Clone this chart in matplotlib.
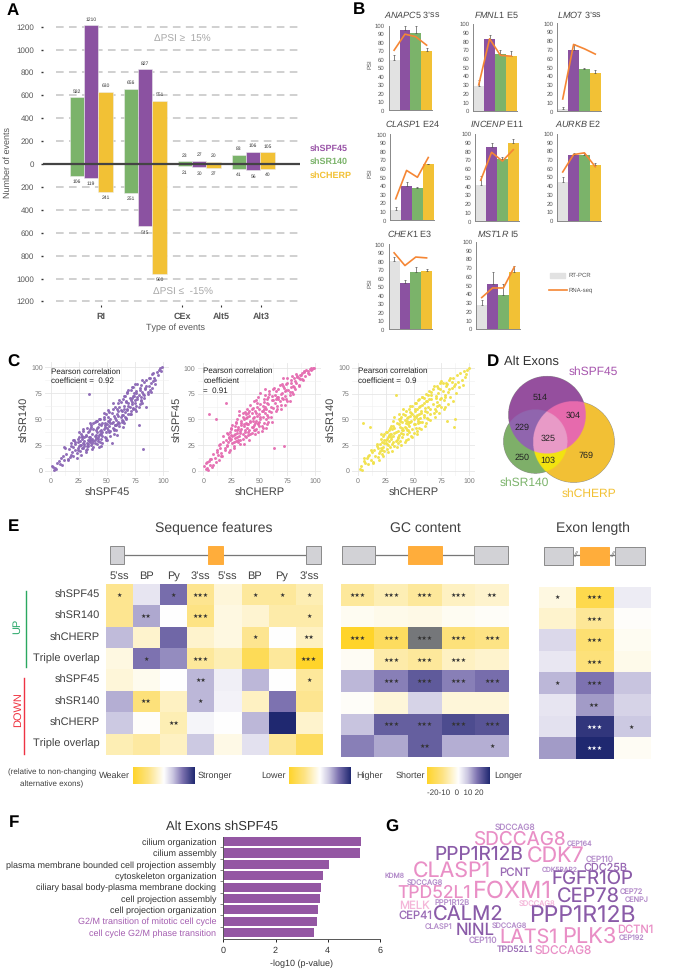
import numpy as np
import matplotlib
matplotlib.use('Agg')
from matplotlib import pyplot as plt
from matplotlib.colors import LinearSegmentedColormap, to_rgba
from matplotlib.patches import Rectangle

plt.rcParams['font.family'] = ['Liberation Sans', 'DejaVu Sans']
plt.rcParams['mathtext.fontset'] = 'custom'
plt.rcParams['mathtext.it'] = 'Liberation Sans:italic'
plt.rcParams['mathtext.rm'] = 'Liberation Sans'
plt.rcParams['text.hinting'] = 'no_hinting'
plt.rcParams['text.hinting_factor'] = 1

W, H = 679, 972
GREEN, PURPLE, YELLOW = '#7BB36A', '#8B52A1', '#F2C135'
GREY_BAR, ORANGE = '#E2E2E2', '#F58634'
TXT = '#404040'

# ------------------ panel A ------------------ #
event_types = ['RI', 'CEx', 'Alt5', 'Alt3']
up_sr140 = [582, 656, 23, 83]
up_spf45 = [1210, 827, 27, 106]
up_cherp = [630, 551, 20, 105]
down_sr140 = [106, 251, 21, 41]
down_spf45 = [119, 545, 30, 56]
down_cherp = [241, 960, 37, 40]

# ------------------ panel B ------------------ #
conditions = ['RT-PCR', 'shSPF45', 'shSR140', 'shCHERP']
gene_titles = [r"$\mathit{ANAPC5}$ 3’ss", r"$\mathit{FMNL1}$ E5", r"$\mathit{LMO7}$ 3’ss",
               r"$\mathit{CLASP1}$ E24", r"$\mathit{INCENP}$ E11", r"$\mathit{AURKB}$ E2",
               r"$\mathit{CHEK1}$ E3", r"$\mathit{MST1R}$ I5"]
pcr_psi = [[60, 95, 91, 70], [29, 83, 65, 63.5], [3, 70, 48, 44],
           [12, 40, 37, 65], [42, 85, 71, 90], [45, 75, 75, 64],
           [80, 54, 67, 68], [27, 51, 39, 65]]
pcr_err = [[5, 5, 9, 4], [7, 4, 5, 5], [2, 6, 1, 3],
           [3, 5, 2, 1], [10, 5, 3, 4], [5, 3, 3, 2],
           [5, 4, 6, 3], [6, 14, 13, 7]]
seq_psi = [[71, 90, 87, 77], [30, 83, 64, 63], [14, 76, 71, 65],
           [25, 58, 50, 73], [47, 79, 69, 82], [56, 76, 78, 62],
           [90, 75, 85, 84], [36, 47, 47, 71]]

# ------------------ panel C ------------------ #
spf45_a = [1,2,3,4,5,6,7,8,9,10,11,12,13,14,15,16,17,18,18,19,
           20,20,21,22,22,23,24,24,25,25,26,26,27,27,28,28,29,29,30,30,
           31,31,32,32,33,33,34,34,35,35,35,36,36,37,37,38,38,39,39,40,
           40,41,41,42,42,43,43,44,44,45,45,45,46,46,47,47,48,48,49,49,
           50,50,51,51,52,52,53,53,54,54,55,55,56,56,57,57,58,58,59,59,
           60,60,61,61,62,62,63,63,64,64,65,65,66,66,67,67,68,68,69,69,
           70,70,71,71,72,72,73,73,74,75,75,76,76,77,78,78,79,80,80,81,
           82,83,83,84,85,85,86,87,88,88,89,90,90,91,92,93,94,95,96,97,98,99,
           22,24,26,28,29,30,31,32,33,34,35,36,37,38,39,40,41,42,43,44,
           45,46,47,48,49,50,51,52,53,54,55,56,57,58,59,60,61,62,63,64,
           65,66,67,68,69,70,71,72,73,74,75,76,77,78,79,80,81,82,84,86,
           12,15,18,20,23,25,27,29,31,33,35,37,39,41,43,45,47,49,51,53,
           55,57,59,61,63,65,67,69,71,73,75,77,79,81,83,85,87,89,91,93,
           24,28,32,36,40,44,48,52,56,60,64,68,72,76,80,30,34,38,42,46]
sr140_a = [5,4,1,3,2,8,9,7,12,6,14,10,22,16,11,21,13,24,15,18,
           23,14,30,20,26,17,28,22,24,33,19,29,25,36,22,31,27,38,24,33,
           20,35,27,41,30,24,38,74,28,33,40,25,44,31,36,23,46,34,27,39,
           32,48,37,29,42,35,23,50,38,31,44,36,27,46,40,52,33,42,37,55,
           45,30,48,39,57,43,34,50,46,27,60,41,53,36,44,62,49,39,55,45,
           58,47,62,43,52,66,49,58,69,54,46,63,57,72,51,67,60,76,55,65,
           70,62,78,58,66,81,72,61,75,68,84,63,77,71,44,73,80,83,68,76,
           21,86,70,79,62,88,74,82,78,90,85,80,93,87,90,84,95,92,97,99,96,100,
           28,20,25,33,22,29,34,24,37,29,31,42,27,40,30,35,41,33,45,36,
           39,34,50,44,32,41,52,37,46,56,47,39,51,44,60,53,46,59,54,48,
           60,52,66,59,63,55,68,64,60,72,65,75,69,62,78,71,65,74,80,76,
           23,10,27,30,12,37,15,40,18,26,46,21,47,26,50,24,56,30,59,38,
           65,44,35,68,47,72,50,78,55,81,60,84,64,88,73,82,90,76,94,88,
           31,34,21,30,48,28,46,48,40,65,42,75,70,58,67,26,33,29,31,37]
cherp_b = [1,2,2,3,4,5,5,6,7,8,9,10,11,11,12,13,14,15,16,17,
           18,19,20,20,21,22,22,23,24,24,25,25,26,26,27,27,28,28,29,29,
           30,30,31,31,32,32,33,33,34,34,35,35,36,36,37,37,38,38,39,39,
           40,40,41,41,42,42,43,43,44,44,45,45,46,46,47,47,48,48,49,49,
           50,50,51,51,52,52,53,53,54,54,55,55,56,56,57,57,58,58,59,59,
           60,60,61,62,63,64,65,66,67,68,69,70,71,72,72,73,74,75,76,77,
           78,79,80,81,82,83,84,85,86,87,88,89,90,91,92,93,94,95,96,97,98,99,
           15,18,21,23,25,27,28,30,31,33,34,35,36,37,38,39,40,41,42,43,
           44,45,46,47,48,49,50,51,52,53,54,55,56,57,58,60,61,62,64,65,
           66,67,68,69,70,71,73,74,75,77,78,80,82,84,85,86,88,90,93,96,
           3,6,9,12,14,16,19,21,23,25,27,29,31,33,35,37,39,41,43,45,
           47,49,51,53,55,57,59,61,63,65,67,69,71,73,75,77,79,81,83,85,
           26,30,34,38,42,46,50,54,58,62,66,70,74,78,24,28,32,36,40,44]
spf45_b = [5,2,8,3,1,55,10,6,12,4,16,13,50,9,20,15,11,26,17,14,
           34,22,66,30,25,36,28,33,20,38,42,31,27,45,35,24,40,32,29,47,
           37,50,28,43,34,54,39,30,49,41,36,52,44,26,57,38,47,33,42,60,
           46,35,53,40,64,48,37,56,43,51,45,68,36,58,49,41,62,53,46,72,
           55,44,50,76,58,39,63,52,47,67,56,80,60,42,54,70,48,65,58,75,
           62,52,73,69,22,66,78,60,72,84,64,76,70,24,81,73,85,68,79,74,
           88,77,83,90,80,86,92,84,89,93,95,88,96,92,98,97,94,99,100,99,100,100,
           22,28,24,32,35,28,44,33,41,37,47,31,50,40,55,46,38,58,49,43,
           61,52,40,56,66,47,60,52,44,58,70,62,50,66,72,57,69,61,74,70,
           63,80,68,75,71,83,78,70,86,77,82,75,87,91,83,93,89,97,95,98,
           9,12,6,18,25,14,20,37,18,41,22,48,30,26,56,34,52,30,60,40,
           69,38,65,42,74,46,78,48,81,58,70,60,90,64,90,68,92,82,94,90,
           34,40,45,51,36,47,48,60,52,80,72,85,79,86,30,36,58,46,56,49]
cherp_c = [2,3,4,5,6,7,8,9,10,11,12,13,14,15,16,17,18,19,20,20,
           21,21,22,22,23,23,24,24,25,25,26,26,27,27,28,28,29,29,30,30,
           31,31,32,32,33,33,34,35,35,36,36,37,37,38,38,39,39,40,40,41,
           41,42,42,43,43,44,44,45,45,46,46,47,47,48,48,49,49,50,50,51,
           51,52,52,53,53,54,54,55,55,56,56,57,58,58,59,59,60,60,61,
           62,62,63,64,65,66,67,68,69,70,71,72,73,74,75,76,77,78,79,80,81,
           82,83,84,85,86,87,88,89,90,91,92,93,94,95,96,97,98,100,
           18,22,24,26,28,30,32,33,34,36,37,38,40,41,42,43,44,45,46,47,
           48,49,50,51,52,53,54,55,56,57,58,59,60,61,63,64,65,66,68,70,
           71,72,74,75,76,78,80,82,84,86,
           6,9,12,14,17,19,21,23,25,27,29,31,33,35,37,39,41,43,45,47,
           49,51,53,55,57,59,61,63,65,67,69,71,73,75,77,79,81,83,85,87,
           26,30,34,38,42,46,50,54,58,62,66,70,74,78,24,28,32,36,40,44]
sr140_c = [2,5,1,46,10,8,12,7,15,43,11,18,9,20,14,24,13,17,26,19,
           31,22,16,28,34,23,19,36,27,30,21,38,25,33,40,29,23,36,44,31,
           26,41,34,48,24,37,74,30,46,39,27,50,35,43,29,52,37,33,47,55,
           40,28,49,42,58,36,51,31,45,60,38,53,47,34,56,41,63,50,37,58,
           45,66,52,39,60,48,69,55,42,63,51,58,47,72,54,66,44,61,75,57,
           68,62,78,55,70,65,82,60,73,67,76,64,79,71,85,69,74,82,48,77,
           88,72,80,90,43,84,76,93,86,81,95,88,83,97,91,94,98,100,
           22,20,30,26,35,33,28,42,38,32,45,48,42,36,54,46,40,52,44,57,
           48,55,45,60,42,54,50,62,47,56,64,52,58,68,50,70,60,74,56,71,
           63,80,70,62,78,72,84,79,86,82,
           12,14,20,8,26,11,36,14,38,18,42,19,52,23,55,25,60,30,40,63,
           33,66,36,70,41,71,46,74,49,79,52,82,56,87,60,85,65,90,68,50,
           31,36,29,50,43,47,53,46,72,51,77,58,85,62,27,34,44,33,40,48]

# ------------------ panel D ------------------ #
venn_spf45_only, venn_sr140_only, venn_cherp_only = 514, 250, 769
venn_spf45_sr140, venn_spf45_cherp, venn_sr140_cherp, venn_all = 229, 304, 103, 325

# ------------------ panel E ------------------ #
row_names = ['shSPF45', 'shSR140', 'shCHERP', 'Triple overlap'] * 2
seq_cols = ['5’ss', 'BP', 'Py', '3’ss', '5’ss', 'BP', 'Py', '3’ss']
seq_vals = [[-.45, .13, .62, -.45, -.15, -.4, -.4, -.3],
            [-.45, .4, 0, -.5, -.12, -.18, -.35, -.35],
            [.33, -.2, .65, -.2, -.12, -.45, 0, -.25],
            [-.12, .6, .5, -.4, -.3, -.75, -.4, -1],
            [-.15, -.07, 0, .35, .08, .35, 0, -.4],
            [.38, -.55, -.25, .35, .07, -.25, .6, -.45],
            [.28, -.02, -.3, .05, 0, .35, 1, -.2],
            [-.3, -.38, -.25, .28, -.1, .15, -.42, -.7]]
seq_stars = [['*', '', '*', '***', '', '*', '*', '*'],
             ['', '**', '', '***', '', '', '', '*'],
             ['', '', '', '', '', '*', '', '**'],
             ['', '*', '', '***', '', '', '', '***'],
             ['', '', '', '**', '', '', '', '*'],
             ['', '**', '', '*', '', '', '', ''],
             ['', '', '**', '', '', '', '', ''],
             ['', '', '', '', '', '', '', '']]
gc_vals = [[-.4, -.3, -.4, -.25, -.2],
           [-.05, -.08, -.1, -.05, -.03],
           [-1, -.7, np.nan, -.55, -.5],
           [-.04, -.35, -.4, -.25, -.2],
           [.35, .55, .72, .55, .62],
           [-.03, -.15, .22, -.15, -.15],
           [.3, .7, .7, .8, .75],
           [.55, .4, .7, .38, .38]]
gc_stars = [['***', '***', '***', '***', '**'],
            ['', '', '', '', ''],
            ['***', '***', '***', '***', '***'],
            ['', '***', '***', '***', ''],
            ['', '***', '***', '***', '***'],
            ['', '', '', '', ''],
            ['', '***', '***', '***', '***'],
            ['', '', '**', '', '*']]
len_vals = [[-.12, -.8, .1],
            [-.2, -.42, -.02],
            [.2, -.6, -.05],
            [.12, -.55, -.08],
            [.35, .6, .3],
            [.13, .45, .22],
            [.15, .92, .28],
            [.45, 1, -.04]]
len_stars = [['*', '***', ''],
             ['', '***', ''],
             ['', '***', ''],
             ['', '***', ''],
             ['*', '***', ''],
             ['', '**', ''],
             ['', '***', '*'],
             ['', '***', '']]

# ------------------ panel F ------------------ #
go_terms = ['cilium organization', 'cilium assembly',
            'plasma membrane bounded cell projection assembly',
            'cytoskeleton organization', 'ciliary basal body-plasma membrane docking',
            'cell projection assembly', 'cell projection organization',
            'G2/M transition of mitotic cell cycle', 'cell cycle G2/M phase transition']
go_pvals = [5.28, 5.23, 4.06, 3.8, 3.75, 3.72, 3.63, 3.58, 3.46]

# ------------------ panel G ------------------ #
cloud_words = ['SDCCAG8', 'SDCCAG8', 'CEP164', 'PPP1R12B', 'CDK7', 'CEP110', 'CLASP1', 'PCNT',
               'CDK5RAP2', 'CDC25B', 'KDM8', 'FGFR1OP', 'SDCCAG8', 'TPD52L1', 'FOXM1', 'CEP78',
               'CEP72', 'CENPJ', 'MELK', 'PPP1R12B', 'SDCCAG8', 'CEP41', 'CALM2', 'PPP1R12B',
               'CLASP1', 'SDCCAG8', 'NINL', 'DCTN1', 'LATS1', 'PLK3', 'CEP192', 'CEP110',
               'TPD52L1', 'SDCCAG8']


# ------------------ helpers ------------------ #
fig = plt.figure(figsize=(W / 100, H / 100), dpi=100)


def box(x0, y0, x1, y1):
    # axes from pixel box of the reference
    return fig.add_axes([x0 / W, 1 - y1 / H, (x1 - x0) / W, (y1 - y0) / H])


ov = fig.add_axes([0, 0, 1, 1], zorder=10)
ov.set_xlim(0, W)
ov.set_ylim(H, 0)
ov.axis('off')
ov.patch.set_alpha(0)


def label(x, y, s, size=6, color=TXT, ha='left', **kw):
    ov.text(x, y, s, fontsize=size, color=color, ha=ha, va='center', **kw)


for letter, lx, ly in [('A', 7, 11), ('B', 353, 10), ('C', 7, 362), ('D', 487, 362),
                       ('E', 8, 527), ('F', 9, 823), ('G', 385, 827)]:
    label(lx, ly, letter, size=12.5, color='black', fontweight='bold')

# ------------------ panel A ------------------ #
ax = box(43, 20, 300, 305)
ax.set_xlim(-0.894, 3.865)
ax.set_ylim(-1231, 1258)
grid_levels = [200, 400, 600, 800, 1000, 1200]
for lev in grid_levels:
    for sign in (1, -1):
        ax.plot([-0.66, 3.865], [sign * lev] * 2, color='#C4C4C4', lw=1.1, dashes=(5, 3.5), zorder=1)
group_x = np.arange(len(event_types))
bar_w = 0.267
series = [(-bar_w, up_sr140, down_sr140, GREEN),
          (0, up_spf45, down_spf45, PURPLE),
          (bar_w, up_cherp, down_cherp, YELLOW)]
for off, ups, downs, col in series:
    ax.bar(group_x + off, ups, bar_w, color=col, edgecolor='#EDEDED', lw=0.4, zorder=2)
    ax.bar(group_x + off, -np.array(downs), bar_w, color=col, edgecolor='#EDEDED', lw=0.4, zorder=2)
    for gx, u, d in zip(group_x, ups, downs):
        ax.annotate(str(u), (gx + off, u), xytext=(0, 2.5), textcoords='offset points',
                    ha='center', va='bottom', fontsize=3.6, color='#333333')
        ax.annotate(str(d), (gx + off, -d), xytext=(0, -2.5), textcoords='offset points',
                    ha='center', va='top', fontsize=3.6, color='#333333')
ax.axhline(0, color='#444444', lw=1.6, zorder=3)
ticks = [-1200, -1000, -800, -600, -400, -200, 0, 200, 400, 600, 800, 1000, 1200]
ax.set_yticks(ticks)
ax.set_yticklabels([str(abs(t)) for t in ticks], fontsize=5.7, color='#555555')
ax.tick_params(axis='y', length=1.5, width=1, color='#333333', pad=5)
ax.set_xticks([0.18, 1.68, 2.41, 3.15])
ax.set_xticklabels(event_types, fontsize=6.2, color='#555555', fontweight='bold')
ax.tick_params(axis='x', length=1.2, width=0.8, color='#333333', pad=4)
for s in ax.spines.values():
    s.set_visible(False)
ax.patch.set_alpha(0)
label(7.5, 163, 'Number of events', size=6.8, color='#555555', ha='center', rotation=90)
label(175.7, 328, 'Type of events', size=6.2, color='#555555', ha='center')
label(182.7, 39, 'ΔPSI ≥  15%', size=7.5, color='#A8A8A8', ha='center')
label(182.7, 292, 'ΔPSI ≤  -15%', size=7.5, color='#A8A8A8', ha='center')
label(309.7, 148.7, 'shSPF45', size=6.6, color='#9A55A8', fontweight='bold')
label(309.7, 162, 'shSR140', size=6.6, color=GREEN, fontweight='bold')
label(309.7, 175.7, 'shCHERP', size=6.6, color=YELLOW, fontweight='bold')

# ------------------ panel B ------------------ #
b_boxes = [(388.7, 25.7, 432, 110.3), (473.3, 24, 516.7, 111), (557.3, 23.3, 600.7, 111.3),
           (390.3, 134.3, 433.7, 220.3), (475.3, 134, 518.7, 221.3), (557.3, 133.7, 600.7, 220.7),
           (388.7, 244.3, 432, 329.3), (476.3, 241.7, 519.7, 329)]
b_title_pos = [(412, 15), (496, 15), (579, 15), (412, 124.3), (496.7, 124.3), (578, 124.3),
               (410, 234.3), (498, 234.3)]
bar_colors = [GREY_BAR, PURPLE, GREEN, YELLOW]
for i, bb in enumerate(b_boxes):
    ax = box(*bb)
    xs = np.arange(len(conditions))
    ax.bar(xs, pcr_psi[i], 1.0, color=bar_colors, zorder=2)
    ax.errorbar(xs, pcr_psi[i], yerr=[[0] * 4, pcr_err[i]], fmt='none', ecolor='#555555',
                elinewidth=0.5, capsize=0.8, capthick=0.5, zorder=3)
    ax.plot(xs, seq_psi[i], color=ORANGE, lw=1.2, zorder=4)
    ax.set_xlim(-0.5, 3.5)
    ax.set_ylim(0, 100)
    ax.set_xticks([])
    ax.set_yticks(range(0, 101, 10))
    ax.tick_params(axis='y', labelsize=4.2, length=0, pad=3, labelcolor='#555555')
    for side in ('top', 'right'):
        ax.spines[side].set_visible(False)
    for side in ('left', 'bottom'):
        ax.spines[side].set_color('#888888')
        ax.spines[side].set_linewidth(0.7)
    label(b_title_pos[i][0], b_title_pos[i][1], gene_titles[i], size=6.8, color='#444444', ha='center')
    if i % 3 == 0:
        label(370, (bb[1] + bb[3]) / 2 - 4, 'PSI', size=4.2, color='#555555', ha='center', rotation=90)
ov.add_patch(Rectangle((550, 273.3), 15.3, 4.7, color=GREY_BAR))
ov.plot([549, 566.7], [290, 290], color=ORANGE, lw=1.2)
label(568.3, 275.7, 'RT-PCR', size=4.6, color='#555555')
label(568.3, 290, 'RNA-seq', size=4.6, color='#555555')

# ------------------ panel C ------------------ #
c_boxes = [(45, 362, 169, 476), (197.7, 363, 321, 476), (352, 362.7, 475, 476)]
c_data = [(spf45_a, sr140_a, '#8B67B5', 'shSPF45', 'shSR140'),
          (cherp_b, spf45_b, '#E56DB1', 'shCHERP', 'shSPF45'),
          (cherp_c, sr140_c, '#F1E14A', 'shCHERP', 'shSR140')]
for bb, (xv, yv, col, xl, yl) in zip(c_boxes, c_data):
    ax = box(*bb)
    ax.set_xlim(-5, 105)
    ax.set_ylim(-5, 105)
    ax.set_xticks([0, 25, 50, 75, 100])
    ax.set_yticks([0, 25, 50, 75, 100])
    ax.set_xticks([12.5, 37.5, 62.5, 87.5], minor=True)
    ax.set_yticks([12.5, 37.5, 62.5, 87.5], minor=True)
    ax.grid(which='major', color='#E6E6E6', lw=0.6)
    ax.grid(which='minor', color='#F0F0F0', lw=0.4)
    ax.set_axisbelow(True)
    ax.tick_params(which='both', length=0)
    ax.tick_params(labelsize=5.2, labelcolor='#777777', pad=1.5)
    for s in ax.spines.values():
        s.set_visible(False)
    ax.scatter(xv, yv, s=4.5, color=col, linewidths=0, alpha=0.95, zorder=3)
    ax.set_xlabel(xl, fontsize=8.2, color='#444444', labelpad=2.5)
    ax.set_ylabel(yl, fontsize=8.2, color='#444444', labelpad=1)
label(50.7, 371.7, 'Pearson correlation', size=6.1, color='#222222')
label(50.7, 381.3, 'coefficient =  0.92', size=6.1, color='#222222')
label(203.3, 371.3, 'Pearson correlation', size=6.1, color='#222222')
label(203.3, 381.3, 'coefficient', size=6.1, color='#222222')
label(203.3, 391.3, '=  0.91', size=6.1, color='#222222')
label(357.7, 371.3, 'Pearson correlation', size=6.1, color='#222222')
label(357.7, 381.3, 'coefficient =  0.9', size=6.1, color='#222222')

# ------------------ panel D ------------------ #
# region colours are painted on a fine grid so the overlaps stay clean
vx0, vy0, vx1, vy1 = 490, 370, 620, 490
vy, vx = np.mgrid[vy0:vy1:0.25, vx0:vx1:0.25]
in_spf = (vx - 547) ** 2 + (vy - 414.7) ** 2 <= 38.7 ** 2
in_sr = (vx - 535.3) ** 2 + (vy - 441.3) ** 2 <= 32 ** 2
in_che = (vx - 573.7) ** 2 + (vy - 441.7) ** 2 <= 40.7 ** 2
venn_img = np.zeros(vx.shape + (4,))
venn_img[in_sr] = to_rgba('#7FB069')
venn_img[in_che] = to_rgba(YELLOW)
venn_img[in_spf] = to_rgba('#964F9E')
venn_img[in_spf & in_sr] = to_rgba('#9065AE')
venn_img[in_spf & in_che] = to_rgba('#E66BAD')
venn_img[in_sr & in_che] = to_rgba('#F2E311')
venn_img[in_spf & in_sr & in_che] = to_rgba('#E89AC7')
ov.imshow(venn_img, extent=(vx0, vx1, vy1, vy0), aspect='auto', interpolation='antialiased', zorder=1)
ov.set_xlim(0, W)
ov.set_ylim(H, 0)

for (tx, ty), n in zip([(540, 397.3), (573, 415.7), (522, 428), (547.7, 438.3),
                        (522, 457.7), (548, 461), (586.3, 455.3)],
                       [venn_spf45_only, venn_spf45_cherp, venn_spf45_sr140, venn_all,
                        venn_sr140_only, venn_sr140_cherp, venn_cherp_only]):
    label(tx, ty, str(n), size=6.4, color='#222222', ha='center')
label(504.3, 362, 'Alt Exons', size=9, color='#333333')
label(569, 371.7, 'shSPF45', size=8.3, color='#A755AE')
label(500, 482.7, 'shSR140', size=8.3, color=GREEN)
label(561.7, 493.3, 'shCHERP', size=8.3, color=YELLOW)

# ------------------ panel E ------------------ #
heat_cmap = LinearSegmentedColormap.from_list(
    'weak_strong', [(0, '#FFD42A'), (0.25, '#FDE384'), (0.5, '#FFFFFF'),
                    (0.65, '#C9C5E0'), (0.8, '#7D72B0'), (1, '#1F2870')])
heat_cmap.set_bad('#75777A')


def heatmap(bb, vals, stars):
    ax = box(*bb)
    ax.imshow(np.array(vals, dtype=float), cmap=heat_cmap, vmin=-1, vmax=1, aspect='auto',
              interpolation='nearest')
    ax.axis('off')
    for r, row in enumerate(stars):
        for c, st in enumerate(row):
            if st:
                strong = abs(vals[r][c]) > 0.88 and vals[r][c] > 0
                star_col = 'white' if strong else '#333333'
                ax.text(c, r, '★' * len(st), ha='center', va='center', fontsize=4,
                        color=star_col, family='DejaVu Sans')


seq_box = (105.7, 584.3, 322.7, 755)
gc_box = (341, 584.3, 509, 757)
len_box = (538.7, 586.7, 650, 759.3)
heatmap(seq_box, seq_vals, seq_stars)
heatmap(gc_box, gc_vals, gc_stars)
heatmap(len_box, len_vals, len_stars)

col_w = (seq_box[2] - seq_box[0]) / len(seq_cols)
for k, name in enumerate(seq_cols):
    label(seq_box[0] + col_w * (k + 0.5), 576, name, size=8.2, ha='center')
row_h = (seq_box[3] - seq_box[1]) / len(row_names)
for k, name in enumerate(row_names):
    label(100, seq_box[1] + row_h * (k + 0.5), name, size=8.2, ha='right')
ov.plot([25.7, 25.7], [591, 666.7], color='#2AA860', lw=1)
ov.plot([24, 24], [677.7, 753.7], color='#EE3344', lw=1)
label(17.7, 626.7, 'UP', size=7.7, color='#2AA86A', ha='center', rotation=90)
label(17.7, 710, 'DOWN', size=7.7, color='#F0323F', ha='center', rotation=90)

label(214, 528, 'Sequence features', size=10, ha='center')
label(425, 528, 'GC content', size=10, ha='center')
label(592.7, 528, 'Exon length', size=10, ha='center')


def exon_row(x_spans, y0=546.3, y1=564.3):
    ov.plot([x_spans[0][1], x_spans[2][0]], [555.3, 555.3], color='#777777', lw=0.9, zorder=1)
    for k, (xa, xb) in enumerate(x_spans):
        fc, ec = ('#FFAD3B', '#FFAD3B') if k == 1 else ('#D2D2D6', '#8A8A8A')
        ov.add_patch(Rectangle((xa, y0), xb - xa, y1 - y0, fc=fc, ec=ec, lw=0.7, zorder=2))


exon_row([(110.3, 124.3), (208.3, 223.3), (306.3, 320.7)])
exon_row([(342, 375), (408.3, 442), (474.3, 507.7)])
exon_row([(543.7, 572.7), (579.7, 609), (615.3, 644.7)], y0=547, y1=564.5)
label(576, 555.3, '//', size=6, color='#777777', ha='center', fontstyle='italic', zorder=3)
label(612.7, 555.3, '//', size=6, color='#777777', ha='center', fontstyle='italic', zorder=3)

for x0, x1 in [(133, 195), (289.3, 350.7), (427, 489.3)]:
    cb = box(x0, 767.3, x1, 784)
    cb.imshow(np.linspace(-1, 1, 256)[None, :], cmap=heat_cmap, vmin=-1, vmax=1, aspect='auto')
    cb.axis('off')
label(52, 772, '(relative to non-changing', size=5.6, ha='center')
label(52, 784, 'alternative exons)', size=5.6, ha='center')
label(129.5, 775.7, 'Weaker', size=6.4, ha='right')
label(198, 775.7, 'Stronger', size=6.4)
label(285.7, 775.7, 'Lower', size=6.4, ha='right')
label(356, 775.7, 'Higher', size=6.4)
label(425, 775.7, 'Shorter', size=6.4, ha='right')
label(494, 775.7, 'Longer', size=6.4)
label(455, 792.7, '-20-10  0  10 20', size=5.6, ha='center')

# ------------------ panel F ------------------ #
ax = box(223.3, 836.7, 380, 939.3)
ypos = np.arange(len(go_terms))
ax.barh(ypos, go_pvals, 0.82, color='#9457A3')
ax.set_xlim(0, 6)
ax.set_ylim(8.6, -0.45)
ax.set_xticks([0, 2, 4, 6])
ax.tick_params(axis='x', labelsize=6.2, labelcolor='#333333', length=2, width=0.6, pad=3)
ax.set_yticks(ypos)
ax.set_yticklabels(go_terms, fontsize=6.5, color='#333333')
for tl in ax.get_yticklabels()[-2:]:
    tl.set_color('#A45DB0')
ax.tick_params(axis='y', length=0, pad=5)
ax.set_yticks(np.arange(0.5, 8.5, 1), minor=True)
ax.tick_params(axis='y', which='minor', length=2, width=0.5, color='#555555')
for side in ('top', 'right'):
    ax.spines[side].set_visible(False)
for side in ('left', 'bottom'):
    ax.spines[side].set_color('#555555')
    ax.spines[side].set_linewidth(0.7)
label(222.3, 826.7, 'Alt Exons shSPF45', size=9, color='#333333', ha='center')
label(301, 964, '-log10 (p-value)', size=6.6, color='#333333', ha='center')

# ------------------ panel G ------------------ #
# centre x, centre y, width in px of the 3x crop, and one colour per word
D_PUR, M_PUR, L_PUR, PINK, L_PINK = '#8A5BA8', '#9A6BB5', '#B58ECB', '#E98FC6', '#F4B6D9'
cloud_layout = [(405, 144, 122, L_PUR), (417, 180, 278, PINK), (598, 193, 77, L_PUR),
                (296, 226, 267, D_PUR), (528, 233, 173, PINK), (659, 238, 84, L_PUR),
                (216, 273, 235, PINK), (405, 278, 94, M_PUR), (540, 269, 108, L_PUR),
                (675, 263, 132, M_PUR), (44, 287, 60, L_PUR), (638, 299, 246, D_PUR),
                (136, 308, 109, L_PUR), (163, 341, 221, PINK), (398, 335, 237, PINK),
                (624, 349, 189, D_PUR), (754, 336, 70, L_PUR), (771, 361, 72, L_PUR),
                (102, 379, 92, L_PINK), (215, 369, 106, L_PUR), (470, 372, 110, L_PINK),
                (107, 408, 102, M_PUR), (264, 405, 212, D_PUR), (607, 407, 320, D_PUR),
                (176, 440, 83, L_PUR), (387, 439, 106, L_PUR), (286, 452, 117, D_PUR),
                (765, 449, 109, PINK), (447, 473, 175, PINK), (629, 471, 163, PINK),
                (755, 474, 77, L_PUR), (308, 483, 86, L_PUR), (406, 508, 109, M_PUR),
                (548, 516, 172, PINK)]
fig.canvas.draw()
rend = fig.canvas.get_renderer()
for word, (zx, zy, zw, col) in zip(cloud_words, cloud_layout):
    t = ov.text(380 + zx / 3, 780 + zy / 3, word, family='Inter', fontsize=10, color=col,
                ha='center', va='center')
    t.set_fontsize(10 * (zw / 3) / t.get_window_extent(rend).width)

fig.savefig('out.png', dpi=100)
